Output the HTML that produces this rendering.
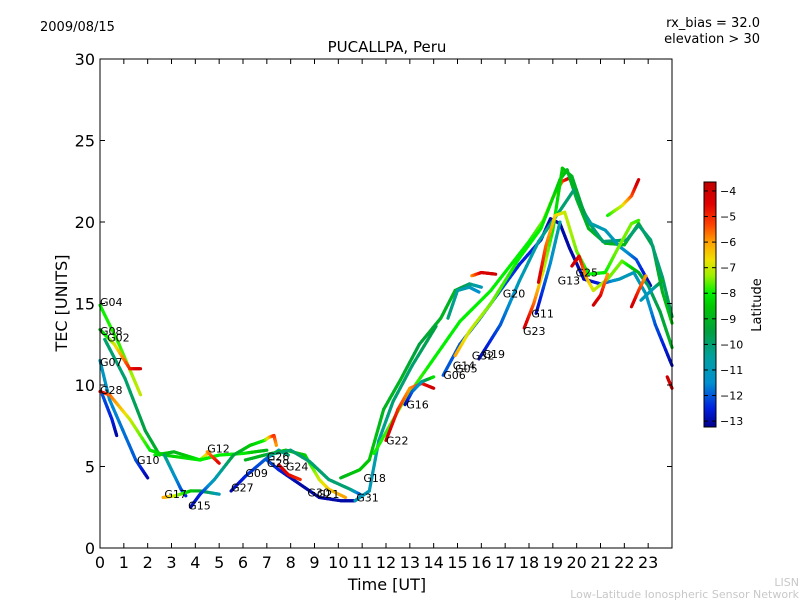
<!DOCTYPE html>
<html><head><meta charset="utf-8"><style>
body{margin:0;background:#fff;width:800px;height:600px;overflow:hidden;font-family:"DejaVu Sans","Liberation Sans",sans-serif}
</style></head><body>
<svg id="chart" width="800" height="600" xmlns="http://www.w3.org/2000/svg" font-family="DejaVu Sans, Liberation Sans, sans-serif">
<text x="40" y="31" font-size="13">2009/08/15</text>
<text x="760" y="27" font-size="13" text-anchor="end">rx_bias = 32.0</text>
<text x="760" y="43" font-size="13" text-anchor="end">elevation &gt; 30</text>
<text x="387" y="52" font-size="15" text-anchor="middle">PUCALLPA, Peru</text>
<text x="387" y="590" font-size="16" text-anchor="middle">Time [UT]</text>
<text x="67" y="303" font-size="16" text-anchor="middle" transform="rotate(-90 67 303)">TEC [UNITS]</text>
<text x="761" y="305" font-size="13" text-anchor="middle" transform="rotate(-90 761 305)">Latitude</text>
<text x="799" y="586" font-size="11" fill="#c8c8c8" text-anchor="end">LISN</text>
<text x="799" y="598" font-size="11" fill="#c8c8c8" text-anchor="end">Low-Latitude Ionospheric Sensor Network</text>
<g id="marks"></g><g id="labels"></g><g id="axes"></g><g id="cbar"></g>
</svg>
<script>
const xTicks=[0,1,2,3,4,5,6,7,8,9,10,11,12,13,14,15,16,17,18,19,20,21,22,23];
const yTicks=[0,5,10,15,20,25,30];
const cbTicks=[-4,-5,-6,-7,-8,-9,-10,-11,-12,-13];
const satNames=["G04","G08","G02","G07","G28","G10","G12","G17","G15","G27","G09","G26","G29","G24","G30","G21","G31","G18","G22","G16","G06","G14","G05","G32","G19","G20","G11","G23","G13","G25"];
const labelHours=[0,0,0.3,0,0,1.55,4.5,2.7,3.7,5.5,6.1,7.0,7.0,7.8,8.7,9.1,10.75,11.05,12,12.85,14.4,14.8,14.9,15.6,16.05,16.9,18.1,17.75,19.2,19.95];
const labelTec=[15.1,13.3,12.9,11.4,9.7,5.4,6.1,3.3,2.6,3.7,4.6,5.6,5.2,5.0,3.4,3.3,3.1,4.3,6.6,8.8,10.6,11.2,11.0,11.8,11.9,15.6,14.4,13.3,16.4,16.9];
// tracks: [hour, TEC, latitude]
const trackG04=[[0,14.9,-8],[0.8,12.5,-7.8],[1.7,9.4,-7]];
const trackG08=[[0,13.4,-9],[0.6,12.5,-7],[1.25,11,-5],[1.7,11,-4]];
const trackG02=[[0.2,12.8,-10],[1.05,10.4,-10],[1.9,7.2,-9.5],[2.5,5.7,-9]];
const trackG07=[[0,11.5,-11],[0.4,9.1,-11.5],[1.5,5.4,-12],[2.0,4.3,-13]];
const trackG28=[[0,9.6,-4],[0.4,9.4,-5.5],[1.25,7.9,-7],[2.1,6,-8],[2.7,5.7,-8.5],[4.2,5.4,-8],[4.6,5.9,-6]];
const trackG28b=[[0.1,9.4,-12],[0.5,7.9,-12.5],[0.7,6.9,-13]];
const trackG10=[[2.3,5.7,-8],[3.1,5.9,-9],[4.2,5.4,-8],[5.0,5.7,-8],[6,5.8,-8],[7,6.0,-9]];
const trackG12=[[4.5,5.9,-6],[5,5.2,-4.5]];
const trackG10b=[[2.7,5.7,-10],[3,4.8,-11],[3.4,3.6,-12],[3.6,3.2,-12.5]];
const trackG17=[[2.65,3.1,-6],[3.15,3.2,-7],[3.8,3.5,-8.5],[4.2,3.5,-9],[5,3.3,-11]];
const trackG15=[[3.8,2.5,-13],[4.2,3.3,-12.5],[4.8,4.2,-11],[5.6,5.7,-9.5],[6.3,6.3,-8.5],[6.9,6.6,-8],[7.1,6.8,-6.5],[7.3,6.9,-5],[7.4,6.3,-6]];
const trackG27=[[5.5,3.5,-13],[6.1,4.4,-12.5],[6.9,5.4,-12],[7.5,6.0,-11],[7.9,5.7,-10]];
const trackG26=[[6.1,5.4,-9],[6.9,5.7,-9],[7.8,6,-8.5],[8.6,5.7,-8.5],[9.2,4.2,-7],[9.6,3.6,-6.5],[10.3,3.1,-6]];
const trackG24=[[7.0,5.7,-10],[8.0,6.0,-10],[8.8,5.3,-10],[9.6,4.2,-10],[10.5,3.6,-10],[10.9,3.3,-12]];
const trackG29=[[7.0,5.4,-12],[7.5,4.8,-12.5],[8.4,3.9,-13],[9.2,3.1,-13],[10.1,2.9,-13],[10.7,2.9,-13]];
const trackRed1=[[7.5,5.1,-4],[7.9,4.5,-4.5],[8.4,4.2,-5]];
const trackG18=[[10.1,4.3,-9],[10.9,4.8,-8.5],[11.3,5.4,-8.5],[11.9,8.5,-9],[12.6,10.3,-9],[13.4,12.5,-9.5],[14.3,14.1,-9],[14.9,15.8,-9],[15.5,16.2,-10],[16,16.0,-11]];
const trackG31=[[10.7,2.9,-11],[11.3,3.5,-11],[11.7,6.6,-10.5],[12.3,9,-10],[13.1,11.2,-10],[14.1,13.6,-9.5]];
const trackLime=[[11.5,5.8,-8],[12.7,8.9,-7.5],[13.9,11.4,-8],[15.1,13.9,-8],[16.4,15.8,-8],[17.2,17.3,-8],[18,18.8,-8],[18.6,20.1,-7.5],[19,21.5,-7],[19.4,22.5,-5.5],[19.7,22.7,-4],[19.9,22.2,-4.5]];
const trackG22=[[12,6.6,-4],[12.5,8.5,-5],[13,9.8,-6],[13.5,10.1,-5],[14,9.8,-4]];
const trackG16=[[12.8,8.8,-13],[13.1,9.6,-12],[13.5,10.2,-11],[14,10.5,-8]];
const trackRed2=[[15.6,16.7,-6],[16,16.9,-4.5],[16.6,16.8,-4]];
const trackTeal=[[14.6,14.1,-10],[15.0,15.8,-10.5],[15.5,16,-11],[15.9,15.7,-11.5]];
const trackG06=[[14.4,10.6,-12],[15.1,12.5,-12],[15.9,14,-12],[16.8,15.8,-12],[17.6,17.4,-12.5],[18.5,18.9,-12.5],[18.9,20.2,-13],[19.3,19.9,-13],[19.7,18.4,-13],[20.3,16.5,-13],[21,16.2,-12.5],[21.8,16.5,-11],[22.4,16.9,-11],[22.9,15.6,-11],[23.3,13.7,-12],[24,11.2,-13]];
const trackG14=[[14.9,11.8,-6],[15.5,13.3,-7],[16.4,15,-7.5],[17.6,17.8,-8],[18.5,19.6,-8],[19.3,22.6,-8.5],[19.6,23.2,-9],[20,21.4,-9],[20.5,19.6,-9],[21.2,18.7,-9],[22,18.6,-9],[22.6,19.9,-9],[23.2,18.5,-9.5],[23.6,15.7,-9],[24,13.8,-8.5]];
const trackG19=[[15.9,11.6,-13],[16.8,13.7,-12],[17.6,16.4,-11],[18.4,18.8,-10.5],[19.3,20.7,-10],[19.9,22,-10],[20.5,20,-10],[21.1,18.8,-10],[22.1,18.9,-10],[22.6,19.8,-10],[23.1,18.9,-10],[23.6,16.6,-10],[24,14.2,-9.5]];
const trackG23=[[17.8,13.5,-4],[18.2,15,-5.5],[18.6,17,-7],[19,19.5,-8],[19.4,23.3,-8.5],[19.8,22.8,-9],[20.3,20.6,-9.5],[20.6,19.9,-10.5],[21.2,19.5,-11],[21.8,18.5,-11],[22.5,17.7,-12],[23.1,16.1,-13]];
const trackG11=[[18.3,14.4,-13],[18.9,17.5,-11.5],[19.3,20,-10.5]];
const trackG13=[[18.4,16.3,-4],[18.7,18.5,-5.5],[19.1,20.4,-6.5],[19.5,20.6,-7],[20,18.2,-7.5],[20.5,16.8,-8],[21.2,16.9,-8],[21.7,18.3,-7.5],[22.3,19.9,-7.5],[22.6,20.1,-7.8]];
const trackG25=[[19.8,17.3,-4],[20.1,17.9,-4.5],[20.4,16.6,-6],[20.7,15.8,-7],[21.3,16.5,-7.5],[21.9,17.6,-7.5],[22.6,16.9,-9],[23,16.1,-10],[23.5,14.5,-9.5],[24,12.3,-9]];
const trackRed3=[[20.7,14.9,-4],[21,15.5,-4.5],[21.3,16.8,-6]];
const trackRed4=[[22.3,14.8,-4],[22.6,15.8,-5],[22.9,16.7,-6]];
const trackTeal2=[[22.7,15.2,-11],[23.2,15.9,-11],[23.6,16.4,-9]];
const trackRed5=[[21.3,20.4,-8],[21.9,21,-7],[22.3,21.6,-5.5],[22.6,22.6,-4]];
const trackRed6=[[23.8,10.5,-4],[24,9.8,-4]];
const tracks=[trackG04,trackG08,trackG02,trackG07,trackG28,trackG28b,trackG10,trackG12,trackG10b,trackG17,trackG15,trackG27,trackG26,trackG24,trackG29,trackRed1,trackG18,trackG31,trackLime,trackG22,trackG16,trackRed2,trackTeal,trackG06,trackG14,trackG19,trackG23,trackG11,trackG13,trackG25,trackRed3,trackRed4,trackTeal2,trackRed5,trackRed6];

const X0=100,X1=672,Y0=548,Y1=59;
const xs=h=>X0+(h/24)*(X1-X0);
const ys=v=>Y0-(v/30)*(Y0-Y1);
const LMIN=-13.23,LMAX=-3.65,CB_T=182,CB_B=427;
const cy=l=>CB_B-(l-LMIN)/(LMAX-LMIN)*(CB_B-CB_T);
const STOPS=[[-13.23,[0,0,140]],[-12.5,[0,32,224]],[-11.5,[0,144,208]],[-10.5,[0,160,160]],[-9.5,[0,160,64]],[-8.5,[0,200,0]],[-8.0,[0,240,0]],[-7.3,[160,240,0]],[-6.7,[240,224,0]],[-6.0,[255,160,0]],[-5.3,[255,64,0]],[-4.5,[224,0,0]],[-3.65,[192,0,0]]];
function jet(l){l=Math.max(LMIN,Math.min(LMAX,l));
 for(let i=0;i<STOPS.length-1;i++){const a=STOPS[i],b=STOPS[i+1];
  if(l<=b[0]){const t=(l-a[0])/(b[0]-a[0]);const c=a[1].map((v,j)=>Math.round(v+(b[1][j]-v)*t));return `rgb(${c[0]},${c[1]},${c[2]})`;}}
 return 'rgb(192,0,0)';}
const NS='http://www.w3.org/2000/svg';
function mk(tag,attrs,parent){const e=document.createElementNS(NS,tag);for(const k in attrs)e.setAttribute(k,attrs[k]);parent.appendChild(e);return e;}
const marks=document.getElementById('marks');
tracks.forEach((tr,ti)=>{
 const g=mk('g',{},marks);
 
 
 for(let i=0;i<tr.length-1;i++){const a=tr[i],b=tr[i+1];const n=8;
  for(let k=0;k<n;k++){const t0=k/n,t1=(k+1)/n;
   mk('line',{x1:xs(a[0]+(b[0]-a[0])*t0),y1:ys(a[1]+(b[1]-a[1])*t0),x2:xs(a[0]+(b[0]-a[0])*t1),y2:ys(a[1]+(b[1]-a[1])*t1),stroke:jet(a[2]+(b[2]-a[2])*(t0+t1)/2),'stroke-width':3.2,'stroke-linecap':'round'},g);}}
});
const lab=document.getElementById('labels');
satNames.forEach((n,i)=>{const t=mk('text',{x:xs(labelHours[i]),y:ys(labelTec[i])+4,'font-size':11},lab);t.textContent=n;
 
 });
const ax=document.getElementById('axes');
const fr=mk('rect',{x:X0,y:Y1,width:X1-X0,height:Y0-Y1,fill:'none',stroke:'#000','stroke-width':1},ax);


xTicks.forEach(h=>{const x=xs(h);mk('line',{x1:x,y1:Y0,x2:x,y2:Y0-5,stroke:'#000'},ax);mk('line',{x1:x,y1:Y1,x2:x,y2:Y1+5,stroke:'#000'},ax);
 const t=mk('text',{x:x,y:Y0+20,'font-size':16,'text-anchor':'middle'},ax);t.textContent=h;
 
 });
yTicks.forEach(v=>{const y=ys(v);mk('line',{x1:X0,y1:y,x2:X0+5,y2:y,stroke:'#000'},ax);mk('line',{x1:X1,y1:y,x2:X1-5,y2:y,stroke:'#000'},ax);
 const t=mk('text',{x:X0-5,y:y+6,'font-size':16,'text-anchor':'end'},ax);t.textContent=v;
 
 });
const cb=document.getElementById('cbar');
for(let y=CB_T;y<CB_B;y++){const l=LMAX-(y-CB_T+0.5)/(CB_B-CB_T)*(LMAX-LMIN);mk('rect',{x:704,y:y,width:12,height:1.2,fill:jet(l)},cb);}
const cbr=mk('rect',{x:704,y:CB_T,width:12,height:CB_B-CB_T,fill:'none',stroke:'#000'},cb);


cbTicks.forEach(l=>{const y=cy(l);mk('line',{x1:704,y1:y,x2:708,y2:y,stroke:'#000'},cb);mk('line',{x1:716,y1:y,x2:712,y2:y,stroke:'#000'},cb);
 const t=mk('text',{x:720,y:y+4,'font-size':11},cb);t.textContent='\u2212'+Math.abs(l);
 
 });
</script>
</body></html>
